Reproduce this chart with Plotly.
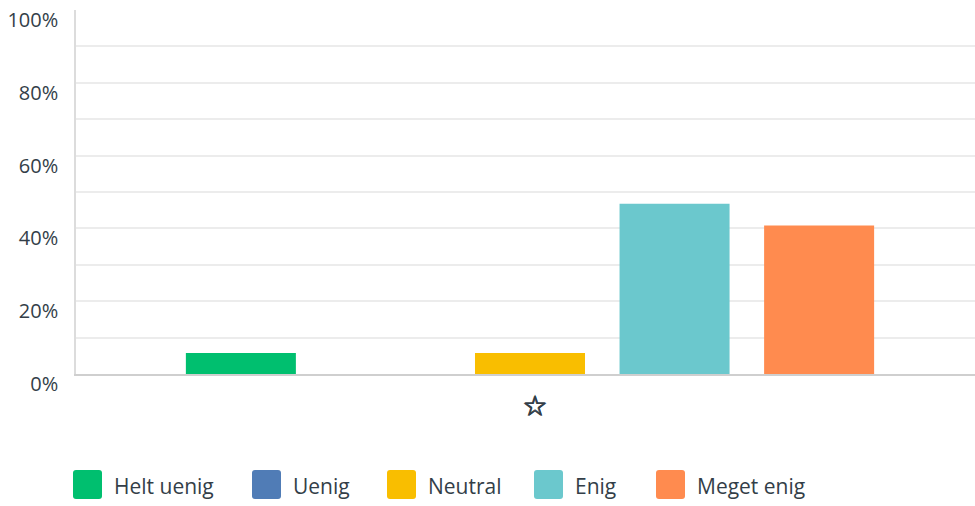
import plotly.graph_objects as go

categories = ["☆"]
series_names = ["Helt uenig", "Uenig", "Neutral", "Enig", "Meget enig"]
series_values = [5.8, 0.0, 5.8, 46.8, 40.8]
series_colors = ["#00bf6f", "#507cb6", "#f9be00", "#6bc8cd", "#ff8b4f"]
y_tick_vals = [0, 20, 40, 60, 80, 100]
y_tick_text = ["0%", "20%", "40%", "60%", "80%", "100%"]

W, H = 975, 506
ML, MR, MT, MB = 76, 0, 10, 132
PW, PH = W - ML - MR, H - MT - MB
TXT = "#333e48"
FONT = "Open Sans"

fig = go.Figure()
for name, val, col in zip(series_names, series_values, series_colors):
    fig.add_trace(go.Bar(x=categories, y=[val], name=name, marker=dict(color=col, line=dict(width=0)),
                         showlegend=False))

# custom legend (big rounded swatches)
legend_px = [73, 252, 387, 534, 656]
sq = 29
sq_top = 470
r = 3
shapes = []
annotations = []
for name, col, lx in zip(series_names, series_colors, legend_px):
    x0 = (lx - ML) / PW
    x1 = (lx + sq - ML) / PW
    y0 = (H - MB - (sq_top + sq)) / PH
    y1 = (H - MB - sq_top) / PH
    rx = r / PW
    ry = r / PH
    path = (f"M{x0+rx},{y0} L{x1-rx},{y0} Q{x1},{y0} {x1},{y0+ry} L{x1},{y1-ry} Q{x1},{y1} {x1-rx},{y1} "
            f"L{x0+rx},{y1} Q{x0},{y1} {x0},{y1-ry} L{x0},{y0+ry} Q{x0},{y0} {x0+rx},{y0} Z")
    shapes.append(dict(type="path", xref="paper", yref="paper", path=path, fillcolor=col,
                       line=dict(width=0), layer="above"))
    annotations.append(dict(xref="paper", yref="paper", x=(lx + sq + 10 - ML) / PW,
                            y=(H - MB - (sq_top + sq / 2 + 1)) / PH, text=name, showarrow=False,
                            xanchor="left", yanchor="middle",
                            font=dict(family=FONT, size=21, color=TXT)))

fig.update_layout(
    width=W, height=H,
    margin=dict(l=ML, r=MR, t=MT, b=MB),
    paper_bgcolor="white", plot_bgcolor="white",
    barmode="group", bargap=0.196, bargroupgap=0.239,
    shapes=shapes, annotations=annotations,
    font=dict(family=FONT, color=TXT),
    xaxis=dict(range=[-0.505, 0.495], showline=True, linecolor="#cfcfcf", linewidth=2,
               showgrid=False, ticks="",
               tickfont=dict(family="DejaVu Sans", size=28, color=TXT,
                             shadow="0.6px 0 0 #333e48, -0.6px 0 0 #333e48, 0 0.6px 0 #333e48, 0 -0.6px 0 #333e48"),
               ticklabelstandoff=6, ticklabelshift=5, fixedrange=True),
    yaxis=dict(range=[0, 100], tickvals=y_tick_vals, ticktext=y_tick_text,
               showgrid=True, gridcolor="#ececec", gridwidth=2,
               minor=dict(dtick=10, showgrid=True, gridcolor="#ececec", gridwidth=2),
               showline=True, linecolor="#dcdcdc", linewidth=1.5, zeroline=False,
               ticks="", ticklabelstandoff=12, ticklabelshift=10,
               tickfont=dict(family=FONT, size=20, color=TXT), fixedrange=True),
)
fig.write_html("out.html", config={"displayModeBar": False},
               post_script="document.body.style.margin='0px';")
